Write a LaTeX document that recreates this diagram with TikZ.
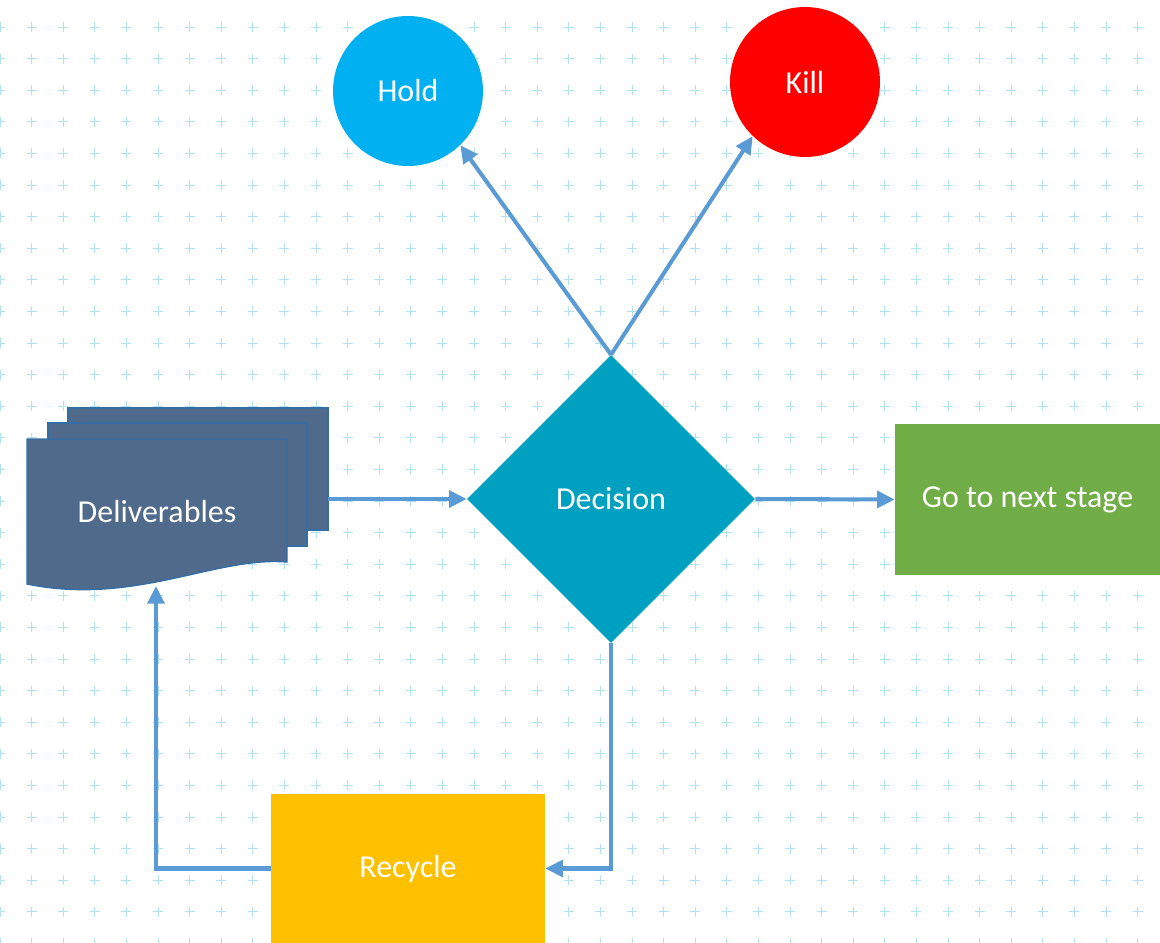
\documentclass[tikz,border=0pt]{standalone}
\usepackage{fontspec}
\setmainfont{Carlito}
\usetikzlibrary{shapes.geometric,arrows.meta}

\definecolor{arrowblue}{RGB}{91,155,213}
\definecolor{crossblue}{RGB}{176,226,243}
\definecolor{slate}{RGB}{80,106,140}
\definecolor{sheetedge}{RGB}{52,110,165}
\definecolor{holdblue}{RGB}{0,176,240}
\definecolor{teal}{RGB}{0,160,192}
\definecolor{leaf}{RGB}{112,173,71}
\definecolor{amber}{RGB}{255,192,0}

\begin{document}
\begin{tikzpicture}[x=0.02cm, y=-0.02cm, font=\fontsize{18.2}{21}\selectfont,
  flow/.style={draw=arrowblue, line width=2.3pt, -{Triangle[length=10pt,width=9.5pt]}},
  sheet/.style={fill=slate, draw=sheetedge, line width=0.8pt}]

\useasboundingbox (0,0) rectangle (1160,943);

% -------- background crosses -----------
\foreach \i in {0,...,36}
  \foreach \j in {0,...,29}
    \draw[crossblue, line width=0.5pt] (\i*31.6-5, 27+\j*31.6) -- ++(10,0)
      (\i*31.6, 22+\j*31.6) -- ++(0,10);

% -------- stacked sheets -----------
\draw[sheet] (68,408) rectangle (328,530);
\draw[sheet] (48,423) rectangle (307,546);
\draw[sheet] (27,439) -- (287,439) -- (287,562)
  .. controls (215,556) and (135,606) .. (27,584) -- cycle;
\node[text=white] (deliv) at (157,512) {Deliverables};
\coordinate (delivr) at (328,499);
\coordinate (delivb) at (156,586);

\node[shape=diamond, fill=teal, text=white, minimum width=5.76cm, minimum height=5.76cm, inner sep=0pt] (dec) at (611,499) {Decision};
\node[circle, fill=holdblue, text=white, minimum size=3cm, inner sep=0pt] (hold) at (408,91) {Hold};
\node[circle, fill=red, text=white, minimum size=3cm, inner sep=0pt] (kill) at (805,82) {Kill};
\node[fill=leaf, text=white, minimum width=5.3cm, minimum height=3.02cm, inner sep=0pt] (next) at (1027.5,499.5) {Go to next stage};
\node[fill=amber, text=white, minimum width=5.48cm, minimum height=2.98cm, inner sep=0pt] (rec) at (408,868.5) {Recycle};

\draw[flow] (delivr) -- (dec.west);
\draw[flow] (dec.east) -- (next.west);
\draw[flow] (dec.north) -- (hold.-46);
\draw[flow] (dec.north) -- (kill.-134);
\draw[flow] (dec.south) |- (rec.east);
\draw[flow] (rec.west) -| (delivb);
\end{tikzpicture}
\end{document}
